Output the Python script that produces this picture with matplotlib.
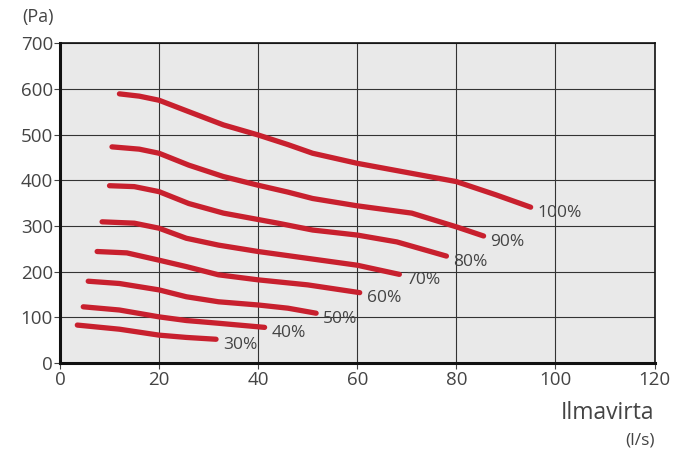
import matplotlib.pyplot as plt

# ─── Data ────────────────────────────────────────────────────────────────────

LABELS = ["100%", "90%", "80%", "70%", "60%", "50%", "40%", "30%"]

flow_100 = [12, 16, 20, 26, 33, 40, 46, 51, 60, 71, 80, 88, 95]
pres_100 = [589, 584, 575, 550, 521, 499, 478, 459, 437, 415, 397, 368, 341]

flow_90 = [10.5, 16, 20, 26, 33, 40, 46, 51, 60, 71, 80, 85.5]
pres_90 = [473, 468, 459, 433, 408, 389, 374, 360, 344, 328, 298, 278]

flow_80 = [10, 15, 20, 26, 33, 40, 44, 51, 60, 68, 78]
pres_80 = [388, 386, 375, 349, 328, 314, 306, 291, 280, 265, 234]

flow_70 = [8.5, 15, 20, 25.5, 32, 40, 50, 60, 68.5]
pres_70 = [309, 306, 295, 273, 258, 244, 229, 214, 194]

flow_60 = [7.5, 13.5, 20, 25.5, 32, 40, 50, 60.5]
pres_60 = [244, 241, 225, 211, 193, 182, 171, 154]

flow_50 = [5.7, 12, 20, 25.5, 32, 40, 46, 51.7]
pres_50 = [179, 174, 160, 145, 134, 127, 120, 109]

flow_40 = [4.7, 12, 20, 25.5, 32, 41.3]
pres_40 = [123, 116, 101, 93, 87, 78]

flow_30 = [3.5, 12, 20, 25.5, 31.5]
pres_30 = [83, 74, 61, 56, 52]

X_TICKS = [0, 20, 40, 60, 80, 100, 120]
Y_TICKS = [0, 100, 200, 300, 400, 500, 600, 700]

# ─── Styling ─────────────────────────────────────────────────────────────────

RED = "#c8202e"
TEXT = "#444444"
plt.rcParams["font.family"] = ["Open Sans", "DejaVu Sans"]

fig = plt.figure(figsize=(6.87, 4.54), dpi=100)
ax = fig.add_axes([0.0873, 0.2004, 0.8654, 0.7046])
ax.set_facecolor("#e9e9e9")

curves = [
    (flow_100, pres_100), (flow_90, pres_90), (flow_80, pres_80),
    (flow_70, pres_70), (flow_60, pres_60), (flow_50, pres_50),
    (flow_40, pres_40), (flow_30, pres_30),
]

for (xs, ys), label in zip(curves, LABELS):
    ax.plot(xs, ys, color=RED, lw=3.8, solid_capstyle="round",
            solid_joinstyle="round", zorder=3)
    ax.annotate(label, (xs[-1], ys[-1]), xytext=(5, -4),
                textcoords="offset points", ha="left", va="center",
                fontsize=12.5, color=TEXT, zorder=4)

ax.set_xlim(0, 120)
ax.set_ylim(0, 700)
ax.set_xticks(X_TICKS)
ax.set_yticks(Y_TICKS)
ax.tick_params(labelsize=13.5, colors=TEXT, length=4, width=0.8,
               labelcolor=TEXT, pad=1)
ax.tick_params(axis="x", pad=2)
ax.grid(True, color="#333333", lw=0.8)
ax.set_axisbelow(True)

for side in ["left", "bottom"]:
    ax.spines[side].set_linewidth(2.2)
for side in ["top", "right"]:
    ax.spines[side].set_linewidth(1.2)
for sp in ax.spines.values():
    sp.set_color("#111111")

fig.text(0.032, 0.962, "(Pa)", fontsize=13, color=TEXT, ha="left", va="center")
fig.text(0.953, 0.09, "Ilmavirta", fontsize=16.5, color=TEXT, ha="right", va="center")
fig.text(0.953, 0.03, "(l/s)", fontsize=12.5, color=TEXT, ha="right", va="center")

fig.savefig("out.png", dpi=100)
